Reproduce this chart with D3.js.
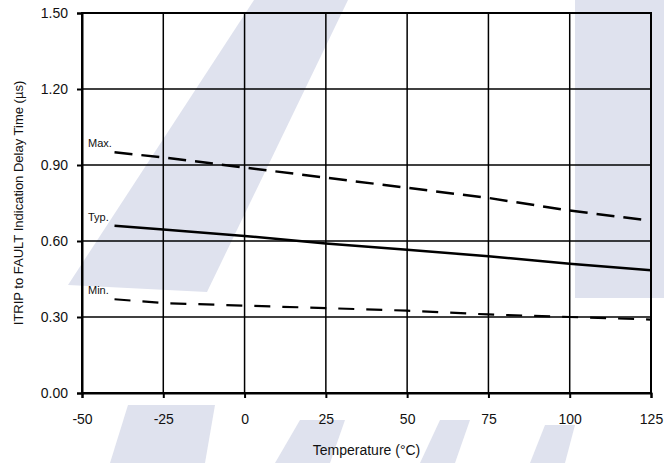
<!DOCTYPE html>
<html>
<head>
<meta charset="utf-8">
<script src="https://cdn.jsdelivr.net/npm/d3@7"></script>
<style>
  body { margin: 0; background: #fff; }
  svg { display: block; font-family: "Liberation Sans", Arial, sans-serif; }
</style>
</head>
<body>
<svg id="chart" width="664" height="463"></svg>
<script>
// data
var temps = [-40, -25, 0, 25, 50, 75, 100, 125];
var maxVals = [0.95, 0.93, 0.89, 0.85, 0.81, 0.77, 0.72, 0.68];
var typVals = [0.66, 0.645, 0.62, 0.59, 0.565, 0.54, 0.51, 0.485];
var minVals = [0.37, 0.355, 0.345, 0.335, 0.325, 0.31, 0.30, 0.29];
var xTicks = [-50, -25, 0, 25, 50, 75, 100, 125];
var yTicks = [0, 0.3, 0.6, 0.9, 1.2, 1.5];

var svg = d3.select('#chart'),
    margin = { top: 13, right: 13, bottom: 70, left: 82 },
    width = 664 - margin.left - margin.right,
    height = 463 - margin.top - margin.bottom;

// faint watermark shapes in the background
var wm = '#dfe2ee';
svg.append('polygon')
  .attr('points', '68,285 207,292 348,0 254,0')
  .attr('fill', wm);
svg.append('rect')
  .attr('x', 575).attr('y', 0).attr('width', 89).attr('height', 298)
  .attr('fill', wm);
// bits of the watermark lettering at the bottom
svg.append('polygon').attr('points', '110,463 128,405 215,405 205,463').attr('fill', wm);
svg.append('polygon').attr('points', '275,463 300,420 345,420 330,463').attr('fill', wm);
svg.append('polygon').attr('points', '420,463 440,420 470,420 455,463').attr('fill', wm);
svg.append('polygon').attr('points', '530,463 545,425 575,425 565,463').attr('fill', wm);

var x = d3.scaleLinear().domain([-50, 125]).range([0, width]);
var y = d3.scaleLinear().domain([0, 1.5]).range([height, 0]);

var g = svg.append('g')
  .attr('transform', 'translate(' + margin.left + ',' + margin.top + ')');

// grid
g.append('g')
  .selectAll('line').data(xTicks)
  .enter().append('line')
  .attr('x1', function(d) { return x(d); })
  .attr('x2', function(d) { return x(d); })
  .attr('y1', 0).attr('y2', height)
  .attr('stroke', '#000').attr('stroke-width', 1.5);

g.append('g')
  .selectAll('line').data(yTicks)
  .enter().append('line')
  .attr('y1', function(d) { return y(d); })
  .attr('y2', function(d) { return y(d); })
  .attr('x1', 0).attr('x2', width)
  .attr('stroke', '#000').attr('stroke-width', 1.5);

// axes
var xAxis = g.append('g')
  .attr('transform', 'translate(0,' + height + ')')
  .call(d3.axisBottom(x).tickValues(xTicks).tickSize(5).tickPadding(16)
    .tickFormat(function(d) { return String(d); }));
var yAxis = g.append('g')
  .call(d3.axisLeft(y).tickValues(yTicks).tickSize(5).tickPadding(9)
    .tickFormat(function(d) { return d.toFixed(2); }));

[xAxis, yAxis].forEach(function(a) {
  a.select('.domain').attr('stroke-width', 2);
  a.selectAll('.tick line').attr('stroke-width', 2);
  a.selectAll('text').attr('font-size', 14).attr('fill', '#111')
    .style('font-family', '"Liberation Sans", Arial, sans-serif');
});

// frame
g.append('rect')
  .attr('width', width).attr('height', height)
  .attr('fill', 'none').attr('stroke', '#000').attr('stroke-width', 2);

// curves
var line = d3.line()
  .x(function(d) { return x(d[0]); })
  .y(function(d) { return y(d[1]); });

var series = [
  { name: 'Max.', vals: maxVals, dash: '18,9', w: 2.5 },
  { name: 'Typ.', vals: typVals, dash: null, w: 2.5 },
  { name: 'Min.', vals: minVals, dash: '16,12', w: 2.2 }
];

series.forEach(function(s) {
  g.append('path')
    .datum(d3.zip(temps, s.vals))
    .attr('d', line)
    .attr('fill', 'none')
    .attr('stroke', '#000')
    .attr('stroke-width', s.w)
    .attr('stroke-dasharray', s.dash);

  g.append('text')
    .attr('x', 6)
    .attr('y', y(s.vals[0]) - 5)
    .attr('font-size', 11)
    .attr('fill', '#111')
    .text(s.name);
});

// axis titles
svg.append('text')
  .attr('x', margin.left + width / 2)
  .attr('y', 455)
  .attr('text-anchor', 'middle')
  .attr('font-size', 14)
  .attr('fill', '#111')
  .text('Temperature (°C)');

svg.append('text')
  .attr('transform', 'translate(23,' + (margin.top + height / 2) + ') rotate(-90)')
  .attr('text-anchor', 'middle')
  .attr('font-size', 13)
  .attr('fill', '#111')
  .text('ITRIP to FAULT Indication Delay Time (µs)');
</script>
</body>
</html>
